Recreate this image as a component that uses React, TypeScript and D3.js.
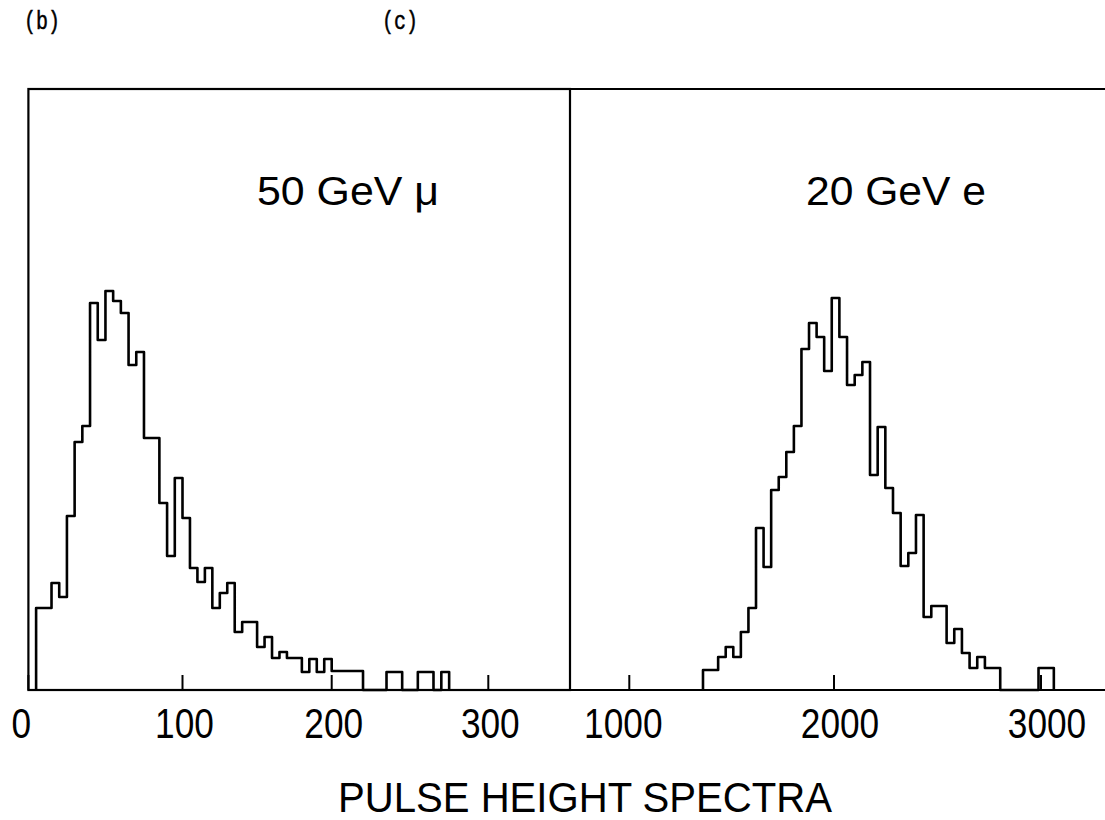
import React from 'react';
import * as d3 from 'd3';

// ---- Data ----
// Panel (b): 50 GeV muons, bins of 5 units starting at 5
const muonBinStart = 5;
const muonBinWidth = 5;
const muonCounts = [
  8.2, 8.2, 10.7, 9.3, 17.4, 24.8, 26.4, 38.7, 35.0, 39.9,
  38.9, 37.7, 32.5, 33.8, 25.2, 25.2, 18.7, 13.4, 21.2, 17.2,
  12.2, 10.8, 12.2, 8.2, 9.7, 10.7, 5.8, 6.8, 6.8, 4.3,
  5.3, 3.2, 3.8, 3.2, 3.2, 1.8, 3.1, 1.8, 3.1, 1.9,
  1.9, 1.9, 1.9, 0, 0, 0, 1.8, 1.8, 0, 0,
  1.8, 1.8, 0, 1.8,
];
const muonTicks = [0, 100, 200, 300];
const muonLabel = '50 GeV \u03bc';

// Panel (c): 20 GeV electrons, bins of 37 units starting at 1360
const elecBinStart = 1360;
const elecBinWidth = 37;
const elecCounts = [
  2.0, 2.0, 3.3, 4.3, 3.3, 5.8, 8.2, 16.2, 12.3, 20.0,
  21.3, 23.8, 26.4, 34.1, 36.7, 35.3, 31.9, 39.2, 35.3, 30.5,
  31.5, 32.8, 21.5, 26.3, 20.2, 17.7, 12.4, 13.7, 17.5, 7.3,
  8.4, 8.4, 4.7, 6.1, 3.7, 2.2, 3.3, 2.2, 2.2, 0,
  0, 0, 0, 0, 2.2, 2.2,
];
const elecTicks = [1000, 2000, 3000];
const elecLabel = '20 GeV  e';

const panelTags = ['(b)', '(c)'];
const xTitle = 'PULSE HEIGHT SPECTRA';
const yMax = 60.1;

// ---- Layout ----
const W = 1105;
const H = 820;
const top = 89;
const bottom = 690;
const leftX = 28.4;
const divX = 570;

export default function App() {
  const y = d3.scaleLinear().domain([0, yMax]).range([bottom, top]);
  // hand-drawn axes: piecewise-linear mapping through the tick positions
  const xMu = d3.scaleLinear().domain([0, 100, 200, 300]).range([leftX, 182.5, 331.7, 488.3]);
  const xE = d3.scaleLinear().domain([1000, 2000, 3000]).range([629.3, 834, 1041]);

  const stepPath = (start: number, width: number, counts: number[], x: d3.ScaleLinear<number, number>) => {
    const pts: [number, number][] = [[x(start), y(0)]];
    counts.forEach((c, i) => pts.push([x(start + i * width), y(c)]));
    pts.push([x(start + counts.length * width), y(0)]);
    return d3.line().curve(d3.curveStepAfter)(pts) || '';
  };

  const font = "'Liberation Sans', Arial, sans-serif";
  const mono = "'Liberation Mono', 'DejaVu Sans Mono', monospace";
  const tickLen = 15;
  const sx = 0.84;

  return (
    <svg width={W} height={H} style={{ position: 'absolute', left: 0, top: 0, background: '#fff' }}>
      <rect x={0} y={0} width={W} height={H} fill="#fff" />
      {/* panel tags */}
      <text x={24} y={29} fontFamily={mono} fontSize={26} fill="#000" stroke="#000" strokeWidth={0.5} textLength={36} lengthAdjust="spacingAndGlyphs">{panelTags[0]}</text>
      <text x={382} y={29} fontFamily={mono} fontSize={26} fill="#000" stroke="#000" strokeWidth={0.5} textLength={36} lengthAdjust="spacingAndGlyphs">{panelTags[1]}</text>

      {/* frames */}
      <g stroke="#000" strokeWidth={2.2} fill="none">
        <rect x={leftX} y={top} width={divX - leftX} height={bottom - top} />
        <line x1={divX} y1={top} x2={W} y2={top} />
        <line x1={divX} y1={bottom} x2={W} y2={bottom} />
      </g>

      {/* ticks */}
      <g stroke="#000" strokeWidth={2}>
        {muonTicks.map((t) => (
          <line key={'mt' + t} x1={xMu(t)} x2={xMu(t)} y1={bottom} y2={bottom - tickLen} />
        ))}
        {elecTicks.map((t) => (
          <line key={'et' + t} x1={xE(t)} x2={xE(t)} y1={bottom} y2={bottom - tickLen} />
        ))}
      </g>

      {/* histograms */}
      <path d={stepPath(muonBinStart, muonBinWidth, muonCounts, xMu)} fill="none" stroke="#000" strokeWidth={2.6} strokeLinejoin="round" />
      <path d={stepPath(elecBinStart, elecBinWidth, elecCounts, xE)} fill="none" stroke="#000" strokeWidth={2.6} strokeLinejoin="round" />

      {/* panel labels */}
      <text x={257} y={205} fontFamily={font} fontSize={41} fill="#000" textLength={182} lengthAdjust="spacingAndGlyphs">{muonLabel}</text>
      <text x={806} y={205} fontFamily={font} fontSize={41} fill="#000" textLength={180} lengthAdjust="spacingAndGlyphs">{elecLabel}</text>

      {/* tick labels */}
      <g fontFamily={font} fontSize={42} fill="#000" textAnchor="middle">
        {muonTicks.map((t) => (
          <text key={'ml' + t} transform={`translate(${t === 0 ? xMu(t) - 7 : xMu(t) + 2},738) scale(${sx},1)`}>{String(t)}</text>
        ))}
        {elecTicks.map((t) => (
          <text key={'el' + t} transform={`translate(${t === 1000 ? xE(t) - 6 : xE(t) + 6},738) scale(${sx},1)`}>{String(t)}</text>
        ))}
      </g>

      {/* x title */}
      <text x={585} y={812} fontFamily={font} fontSize={42} fill="#000" textAnchor="middle" textLength={494} lengthAdjust="spacingAndGlyphs">{xTitle}</text>
    </svg>
  );
}
